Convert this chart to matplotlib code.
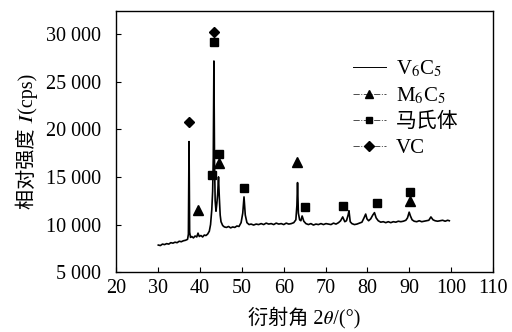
import matplotlib
matplotlib.use("Agg")
import matplotlib.pyplot as plt
from matplotlib.lines import Line2D

FAM = ['Liberation Serif', 'Noto Sans CJK SC', 'STIXGeneral']
plt.rcParams['font.family'] = FAM
plt.rcParams['mathtext.fontset'] = 'stix'

# XRD pattern
two_theta = [30.0, 30.5, 31.0, 31.5, 32.0, 32.5, 33.0, 33.5, 34.0, 34.5, 35.0, 35.5, 36.0, 36.5, 37.0,
             37.2, 37.35, 37.5, 37.7, 38.0, 38.4, 38.8, 39.2, 39.5, 39.8, 40.2, 40.6, 41.0, 41.4, 41.8,
             42.2, 42.5, 42.8, 43.0, 43.15, 43.3, 43.45, 43.6, 43.8, 44.0, 44.2, 44.4, 44.6, 44.8, 45.0,
             45.4, 45.8, 46.3, 46.8, 47.3, 47.8, 48.3, 48.8, 49.3, 49.8, 50.2, 50.5, 50.8, 51.2, 51.7,
             52.2, 52.8, 53.4, 54.0, 54.6, 55.2, 55.8, 56.4, 57.0, 57.6, 58.2, 58.8, 59.4, 60.0, 60.6,
             61.2, 61.8, 62.4, 62.9, 63.15, 63.3, 63.5, 63.8, 64.1, 64.4, 64.8, 65.3, 65.9, 66.5, 67.1,
             67.7, 68.3, 68.9, 69.5, 70.1, 70.7, 71.3, 71.9, 72.5, 73.1, 73.6, 74.1, 74.6, 75.0, 75.4,
             75.6, 75.9, 76.3, 76.9, 77.5, 78.1, 78.7, 79.2, 79.6, 79.9, 80.3, 80.8, 81.3, 81.7, 82.1,
             82.6, 83.2, 83.8, 84.4, 85.0, 85.6, 86.2, 86.8, 87.4, 88.0, 88.6, 89.2, 89.6, 90.0, 90.3,
             90.7, 91.2, 91.8, 92.4, 93.0, 93.6, 94.2, 94.7, 95.2, 95.7, 96.2, 96.8, 97.4, 98.0, 98.6,
             99.2, 99.6]
intensity = [7850, 7800, 7950, 7900, 8000, 7950, 8100, 8050, 8150, 8100, 8250, 8200, 8300, 8350, 8450,
             9000, 18700, 9200, 8650, 8750, 8600, 8800, 8700, 9100, 8750, 8850, 8700, 8900, 8850, 9000,
             9300, 10000, 11600, 13500, 17000, 27150, 16500, 12500, 11400, 12200, 13200, 15000, 12800, 11000, 10300,
             9900, 9750, 9700, 9800, 9650, 9750, 9700, 9850, 9800, 10200, 11200, 12900, 11000, 10200, 10000,
             10050, 9950, 10050, 10000, 10100, 10000, 10150, 10050, 10100, 10000, 10150, 10050, 10100, 10000, 10150,
             10050, 10100, 10200, 10500, 12000, 14400, 11200, 10500, 10400, 10900, 10350, 10100, 10000, 10100, 9950,
             10050, 10000, 10100, 10000, 10100, 10050, 10000, 10150, 10050, 10200, 10400, 10800, 10300, 10400, 11000,
             11450, 10300, 10100, 10000, 10050, 10150, 10250, 10700, 11100, 10600, 10400, 10600, 11000, 11250, 10700,
             10400, 10250, 10300, 10200, 10300, 10200, 10300, 10250, 10350, 10300, 10350, 10450, 10700, 11300, 10900,
             10500, 10350, 10300, 10400, 10300, 10350, 10400, 10450, 10800, 10500, 10400, 10350, 10400, 10450, 10350,
             10450, 10400]

# phase markers
m6c5_x = [39.4, 44.5, 63.2, 90.2]
m6c5_y = [11540, 16470, 16530, 12490]
mart_x = [42.8, 43.3, 44.5, 50.55, 65.1, 74.2, 82.2, 90.2]
mart_y = [15160, 29160, 17410, 13790, 11890, 11960, 12240, 13410]
vc_x = [37.3, 43.3]
vc_y = [20750, 30180]

xticks = [20, 30, 40, 50, 60, 70, 80, 90, 100, 110]
yticks = [5000, 10000, 15000, 20000, 25000, 30000]
ytick_labels = ['5 000', '10 000', '15 000', '20 000', '25 000', '30 000']
legend_labels = ['V$_6$C$_5$', 'M$_6$C$_5$', '马氏体', 'VC']

fig = plt.figure(figsize=(5.12, 3.32), dpi=100)
ax = fig.add_axes([0.2275, 0.180, 0.735, 0.787])

ax.plot(two_theta, intensity, color='black', lw=1.2)
ax.plot(m6c5_x, m6c5_y, linestyle='none', marker='^', color='black', ms=6.5)
ax.plot(mart_x, mart_y, linestyle='none', marker='s', color='black', ms=5.5)
ax.plot(vc_x, vc_y, linestyle='none', marker='D', color='black', ms=5.5)

ax.set_xlim(20, 110)
ax.set_ylim(5000, 32400)
ax.set_xticks(xticks)
ax.set_yticks(yticks)
ax.set_yticklabels(ytick_labels)
ax.tick_params(direction='in', length=3.5, width=0.8, labelsize=14.5)
ax.tick_params(axis='y', pad=11)
ax.tick_params(axis='x', pad=5)
for s in ax.spines.values():
    s.set_linewidth(1.0)

ax.set_ylabel('相对强度 \U0001D43C(cps)', fontsize=14.5, labelpad=6)
ax.set_xlabel('衍射角 2\U0001D703/(°)', fontsize=14.5, labelpad=6)

handles = [
    Line2D([], [], color='black', lw=0.7, linestyle='-'),
    Line2D([], [], color='0.3', lw=0.7, linestyle='-.', marker='^', ms=6, mfc='black', mec='black'),
    Line2D([], [], color='0.3', lw=0.7, linestyle='-.', marker='s', ms=5, mfc='black', mec='black'),
    Line2D([], [], color='0.3', lw=0.7, linestyle='-.', marker='D', ms=5, mfc='black', mec='black'),
]
ax.legend(handles, legend_labels, loc='upper left', bbox_to_anchor=(0.607, 0.85), frameon=False,
          prop={'size': 15}, handlelength=1.55, handletextpad=0.5, labelspacing=0.3, borderaxespad=0)

fig.savefig('out.png', dpi=100)
